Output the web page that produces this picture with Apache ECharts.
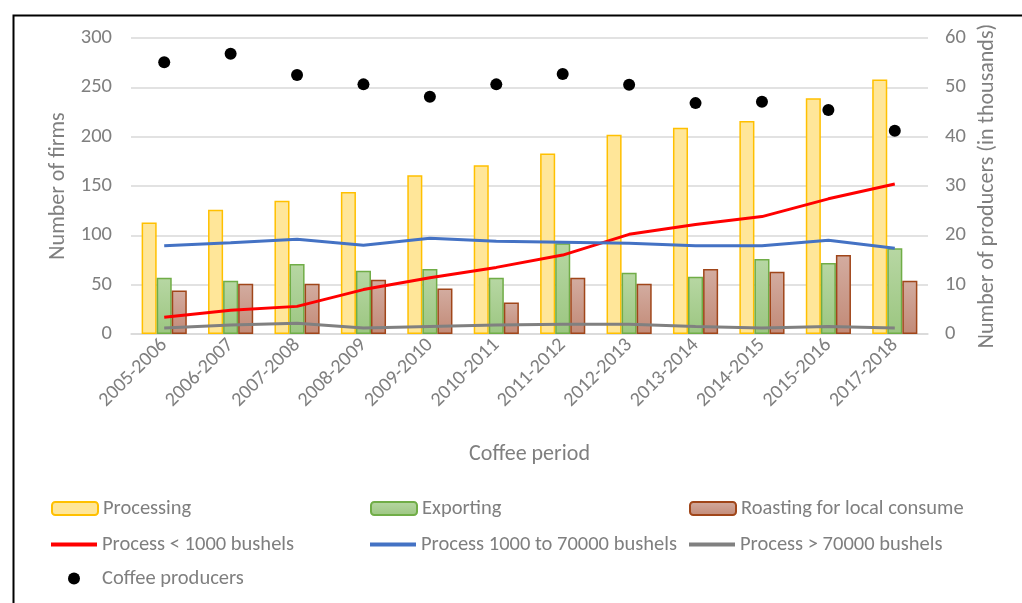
<!DOCTYPE html>
<html><head><meta charset="utf-8">
<script src="https://cdn.jsdelivr.net/npm/echarts@6/dist/echarts.min.js"></script>
<style>html,body{margin:0;padding:0;background:#fff}#c{width:1022px;height:603px}</style>
</head><body><div id="c"></div>
<script>
const categories = ['2005-2006','2006-2007','2007-2008','2008-2009','2009-2010','2010-2011','2011-2012','2012-2013','2013-2014','2014-2015','2015-2016','2017-2018'];
const processing = [113,126,135,144,161,171,183,202,209,216,239,258];
const exporting  = [57,54,71,64,66,57,92,62,58,76,72,87];
const roasting   = [44,51,51,55,46,32,57,51,66,63,80,54];
const procSmall  = [17,24,28,45,57,67.5,80,101,111,119,137,152];
const procMid    = [89.5,92.5,96,90,97,94,93,92,89.5,89.5,95,87];
const procLarge  = [6,9,11,6,7.5,9,10,10,7.5,6,7.5,6];
const producers  = [55.1,56.8,52.5,50.6,48.1,50.6,52.7,50.5,46.8,47.1,45.4,41.2];

const FONT = "'Carlito', 'Liberation Sans Narrow', 'Liberation Sans', sans-serif";
const GRAY = '#7F7F7F';
const grad = (a,b) => new echarts.graphic.LinearGradient(0,0,0,1,[{offset:0,color:a},{offset:1,color:b}]);

const chart = echarts.init(document.getElementById('c'), null, {renderer:'canvas'});
const legendBase = {orient:'horizontal', itemWidth:46, itemHeight:14, itemGap:4,
  textStyle:{fontFamily:FONT, fontSize:20.5, color:GRAY}, padding:0};
function lg(name, left, top, extra, icon){
  return Object.assign({}, legendBase, {data:[icon ? {name:name, icon:icon} : name], left:left, top:top}, extra||{});
}

chart.setOption({
  animation:false,
  textStyle:{fontFamily:FONT},
  graphic:[{type:'rect', left:11, top:13, shape:{x:0,y:0,width:1100,height:700}, style:{fill:'none', stroke:'#000', lineWidth:2}, silent:true}],
  grid:{left:131, right:94, top:38, bottom:269},
  legend:[
    lg('Processing',51,498,{itemHeight:13}),
    lg('Exporting',370,498,{itemHeight:13}),
    lg('Roasting for local consume',689,498,{itemHeight:13}),
    lg('Process < 1000 bushels',51,534,{itemHeight:4},'rect'),
    lg('Process 1000 to 70000 bushels',370,534,{itemHeight:4},'rect'),
    lg('Process > 70000 bushels',689,534,{itemHeight:4},'rect'),
    lg('Coffee producers',68,568,{itemWidth:12, itemHeight:12, textStyle:{fontFamily:FONT, fontSize:20.5, color:GRAY, padding:[0,0,0,17]}},'circle')
  ],
  xAxis:{type:'category', data:categories,
    axisLine:{lineStyle:{color:'#D9D9D9', width:1.5}}, axisTick:{show:false},
    axisLabel:{rotate:45, fontFamily:FONT, fontSize:20, color:GRAY, margin:8, interval:0},
    name:'Coffee period', nameLocation:'middle', nameGap:109,
    nameTextStyle:{fontFamily:FONT, fontSize:22, color:GRAY}},
  yAxis:[
    {type:'value', min:0, max:300, interval:50,
     splitLine:{lineStyle:{color:'#D9D9D9', width:1.5}},
     axisLine:{show:false}, axisTick:{show:false},
     axisLabel:{fontFamily:FONT, fontSize:20.5, color:GRAY, margin:19},
     name:'Number of firms', nameLocation:'middle', nameGap:60,
     nameTextStyle:{fontFamily:FONT, fontSize:22, color:GRAY}},
    {type:'value', min:0, max:60, interval:10,
     splitLine:{show:false}, axisLine:{show:false}, axisTick:{show:false},
     axisLabel:{fontFamily:FONT, fontSize:20.5, color:GRAY, margin:17},
     name:'Number of producers (in thousands)', nameLocation:'middle', nameGap:48,
     nameTextStyle:{fontFamily:FONT, fontSize:22, color:GRAY}}
  ],
  series:[
    {name:'Processing', type:'bar', data:processing, barGap:'0%', barCategoryGap:'32%',
     itemStyle:{color:'#FFE699', borderColor:'#FFC000', borderWidth:1.5}},
    {name:'Exporting', type:'bar', data:exporting, barGap:'0%', barCategoryGap:'32%',
     itemStyle:{color:grad('#B7D7A3','#9CC681'), borderColor:'#70AD47', borderWidth:1.5}},
    {name:'Roasting for local consume', type:'bar', data:roasting, barGap:'0%', barCategoryGap:'32%',
     itemStyle:{color:grad('#D3ACA0','#C28A77'), borderColor:'#A0461A', borderWidth:1.5}},
    {name:'Process < 1000 bushels', type:'line', data:procSmall, symbol:'none',
     lineStyle:{color:'#FF0000', width:3}, itemStyle:{color:'#FF0000'}},
    {name:'Process 1000 to 70000 bushels', type:'line', data:procMid, symbol:'none',
     lineStyle:{color:'#4472C4', width:3}, itemStyle:{color:'#4472C4'}},
    {name:'Process > 70000 bushels', type:'line', data:procLarge, symbol:'none',
     lineStyle:{color:'#808080', width:3}, itemStyle:{color:'#808080'}},
    {name:'Coffee producers', type:'scatter', yAxisIndex:1, data:producers, symbol:'circle', symbolSize:12,
     itemStyle:{color:'#000', opacity:1}}
  ]
});
</script></body></html>
